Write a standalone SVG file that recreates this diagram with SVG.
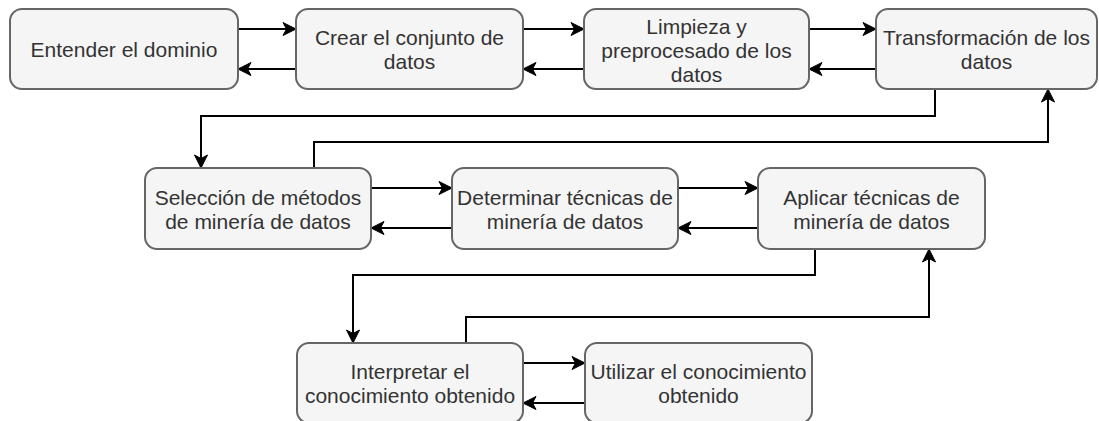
<svg xmlns="http://www.w3.org/2000/svg" width="1099" height="421" viewBox="0 0 1099 421">
<style>
.box{fill:#f5f5f5;stroke:#666666;stroke-width:2}
.lbl{font-family:"Liberation Sans",Arial,sans-serif;font-size:21px;fill:#333333;text-anchor:middle}
.edge{fill:none;stroke:#000000;stroke-width:2}
</style>
<defs>
<marker id="arr" markerUnits="userSpaceOnUse" markerWidth="16" markerHeight="16" refX="13" refY="6.5" orient="auto" overflow="visible">
<path d="M0,0 L13,6.5 L0,13 L3.5,6.5 Z" fill="#000000" stroke="#000000" stroke-width="1"/>
</marker>
</defs>
<rect width="1099" height="421" fill="#ffffff"/>
<g id="connectors">
<path class="edge" d="M238,29 H296" marker-end="url(#arr)"/>
<path class="edge" d="M296,69 H238" marker-end="url(#arr)"/>
<path class="edge" d="M523,29 H584" marker-end="url(#arr)"/>
<path class="edge" d="M584,69 H523" marker-end="url(#arr)"/>
<path class="edge" d="M809,29 H876" marker-end="url(#arr)"/>
<path class="edge" d="M876,69 H809" marker-end="url(#arr)"/>
<path class="edge" d="M935,89 V116 H201 V168" marker-end="url(#arr)"/>
<path class="edge" d="M314,168 V142 H1048 V89" marker-end="url(#arr)"/>
<path class="edge" d="M371,188 H452" marker-end="url(#arr)"/>
<path class="edge" d="M452,228 H371" marker-end="url(#arr)"/>
<path class="edge" d="M678,188 H758" marker-end="url(#arr)"/>
<path class="edge" d="M758,228 H678" marker-end="url(#arr)"/>
<path class="edge" d="M815,249 V275 H353 V343" marker-end="url(#arr)"/>
<path class="edge" d="M466,343 V317 H929 V249" marker-end="url(#arr)"/>
<path class="edge" d="M523,363 H585" marker-end="url(#arr)"/>
<path class="edge" d="M585,403 H523" marker-end="url(#arr)"/>
</g>
<g id="n1">
<rect class="box" x="10" y="9" width="228" height="80" rx="12"/>
<text class="lbl" x="124" y="57">Entender el dominio</text>
</g>
<g id="n2">
<rect class="box" x="296" y="9" width="227" height="80" rx="12"/>
<text class="lbl" x="409.5" y="45">Crear el conjunto de</text>
<text class="lbl" x="409.5" y="69">datos</text>
</g>
<g id="n3">
<rect class="box" x="584" y="9" width="225" height="80" rx="12"/>
<text class="lbl" x="696.5" y="34">Limpieza y</text>
<text class="lbl" x="696.5" y="58">preprocesado de los</text>
<text class="lbl" x="696.5" y="82">datos</text>
</g>
<g id="n4">
<rect class="box" x="876" y="9" width="221" height="80" rx="12"/>
<text class="lbl" x="986.5" y="45">Transformación de los</text>
<text class="lbl" x="986.5" y="69">datos</text>
</g>
<g id="n5">
<rect class="box" x="145" y="168" width="226" height="81" rx="12"/>
<text class="lbl" x="258" y="205">Selección de métodos</text>
<text class="lbl" x="258" y="229">de minería de datos</text>
</g>
<g id="n6">
<rect class="box" x="452" y="168" width="226" height="81" rx="12"/>
<text class="lbl" x="565" y="205">Determinar técnicas de</text>
<text class="lbl" x="565" y="229">minería de datos</text>
</g>
<g id="n7">
<rect class="box" x="758" y="168" width="227" height="81" rx="12"/>
<text class="lbl" x="871.5" y="205">Aplicar técnicas de</text>
<text class="lbl" x="871.5" y="229">minería de datos</text>
</g>
<g id="n8">
<rect class="box" x="297" y="343" width="226" height="80" rx="12"/>
<text class="lbl" x="410" y="379">Interpretar el</text>
<text class="lbl" x="410" y="403">conocimiento obtenido</text>
</g>
<g id="n9">
<rect class="box" x="585" y="343" width="227" height="80" rx="12"/>
<text class="lbl" x="698.5" y="379">Utilizar el conocimiento</text>
<text class="lbl" x="698.5" y="403">obtenido</text>
</g>
</svg>
